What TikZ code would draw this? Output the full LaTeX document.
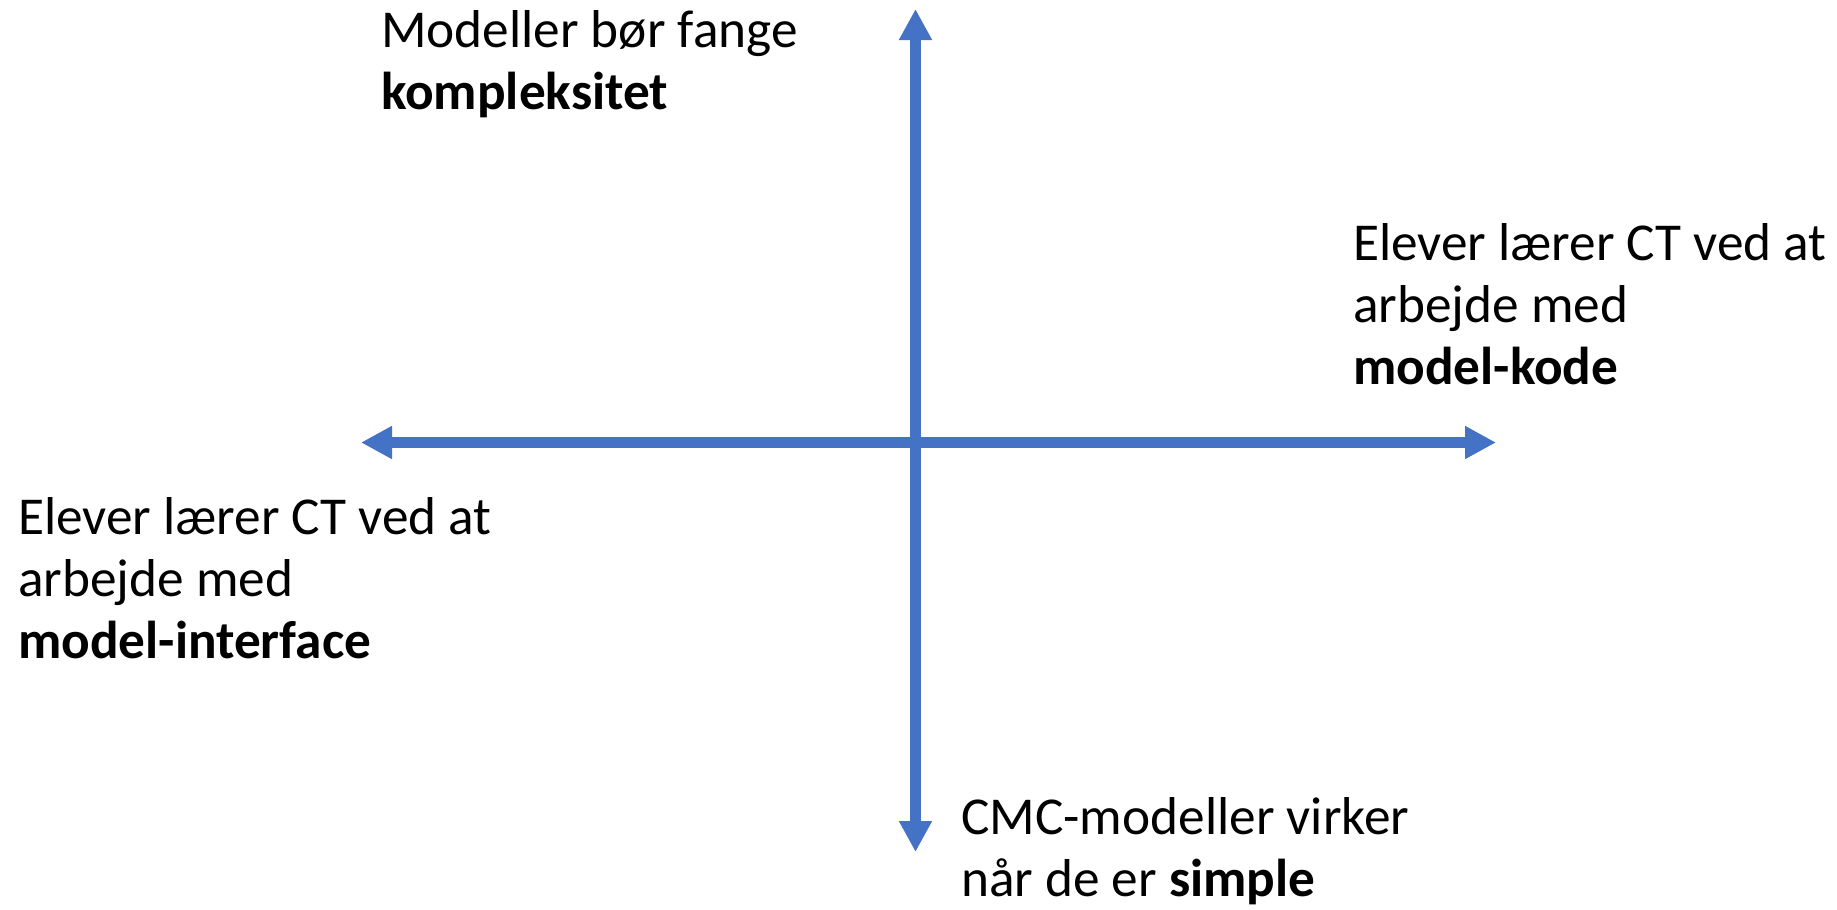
\documentclass[tikz,border=0pt]{standalone}
\usepackage{fontspec}
\setmainfont{Carlito}
\usetikzlibrary{arrows.meta}
\definecolor{axisblue}{HTML}{4472C4}
\begin{document}
\begin{tikzpicture}[x=1pt,y=-1pt,
  axis/.style={draw=axisblue, line width=11pt,
    {Triangle[length=31pt,width=31pt]}-{Triangle[length=31pt,width=31pt]}},
  lbl/.style={anchor=base west, inner sep=0pt, align=left,
    font=\fontsize{53.3}{62}\selectfont}]
\useasboundingbox (0,0) rectangle (1837,910);
\coordinate (top) at (915.5,9);
\coordinate (bot) at (915.5,852);
\coordinate (lft) at (361,442.5);
\coordinate (rgt) at (1496,442.5);
\draw[axis] (bot) -- (top);
\draw[axis] (lft) -- (rgt);
\node[lbl] (tl) at (381,109) {Modeller bør fange\\\textbf{kompleksitet}};
\node[lbl] (rt) at (1353,384) {Elever lærer CT ved at\\arbejde med\\\textbf{model-kode}};
\node[lbl] (lt) at (18,658) {Elever lærer CT ved at\\arbejde med\\\textbf{model-interface}};
\node[lbl] (bt) at (961,896) {CMC-modeller virker\\når de er \textbf{simple}};
\end{tikzpicture}
\end{document}
